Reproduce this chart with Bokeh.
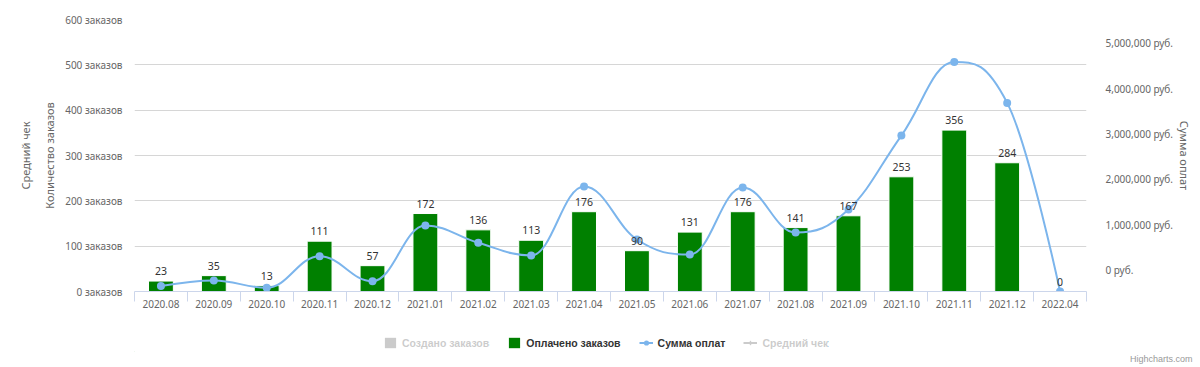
from bokeh.plotting import figure
from bokeh.layouts import column
from bokeh.models import (Range1d, LinearAxis, FixedTicker, ColumnDataSource,
                          Legend, LegendItem, Title)
from bokeh.embed import file_html
from bokeh.resources import INLINE
from bokeh.core.properties import value

# ---------------- data ----------------
months = ["2020.08", "2020.09", "2020.10", "2020.11", "2020.12",
          "2021.01", "2021.02", "2021.03", "2021.04", "2021.05", "2021.06",
          "2021.07", "2021.08", "2021.09", "2021.10", "2021.11", "2021.12",
          "2022.04"]
paid_orders = [23, 35, 13, 111, 57, 172, 136, 113, 176, 90, 131, 176, 141,
               167, 253, 356, 284, 0]
payment_sum = [120000, 243000, 82000, 780000, 227000, 1456000, 1074000,
               794000, 2316000, 1147000, 816000, 2294000, 1300000, 1810000,
               3440000, 5060000, 4160000, 0]

count_ticks = [0, 100, 200, 300, 400, 500, 600]
count_tick_labels = ["0 заказов", "100 заказов", "200 заказов", "300 заказов",
                     "400 заказов", "500 заказов", "600 заказов"]
sum_ticks = [0, 1000000, 2000000, 3000000, 4000000, 5000000]
sum_tick_labels = ["0 руб.", "1,000,000 руб.", "2,000,000 руб.",
                   "3,000,000 руб.", "4,000,000 руб.", "5,000,000 руб."]

series_names = ["Создано заказов", "Оплачено заказов", "Сумма оплат", "Средний чек"]

# ---------------- helpers ----------------
def hc_spline(xs, ys, smoothing=1.5):
    """Highcharts-style spline control points -> bezier segments."""
    n = len(xs)
    denom = smoothing + 1
    lc = [None] * n
    rc = [None] * n
    for i in range(1, n - 1):
        px, py = xs[i], ys[i]
        lx, ly = xs[i - 1], ys[i - 1]
        nx, ny = xs[i + 1], ys[i + 1]
        lcx = (smoothing * px + lx) / denom
        lcy = (smoothing * py + ly) / denom
        rcx = (smoothing * px + nx) / denom
        rcy = (smoothing * py + ny) / denom
        if rcx != lcx:
            corr = ((rcy - lcy) * (rcx - px)) / (rcx - lcx) + py - rcy
            lcy += corr
            rcy += corr
            if lcy > ly and lcy > py:
                lcy = max(ly, py); rcy = 2 * py - lcy
            elif lcy < ly and lcy < py:
                lcy = min(ly, py); rcy = 2 * py - lcy
            if rcy > ny and rcy > py:
                rcy = max(ny, py); lcy = 2 * py - rcy
            elif rcy < ny and rcy < py:
                rcy = min(ny, py); lcy = 2 * py - rcy
        lc[i] = (lcx, lcy)
        rc[i] = (rcx, rcy)
    seg = dict(x0=[], y0=[], x1=[], y1=[], cx0=[], cy0=[], cx1=[], cy1=[])
    for i in range(1, n):
        sx, sy = xs[i - 1], ys[i - 1]
        ex, ey = xs[i], ys[i]
        c0 = rc[i - 1] if rc[i - 1] else (sx, sy)
        c1 = lc[i] if lc[i] else (ex, ey)
        seg["x0"].append(sx); seg["y0"].append(sy)
        seg["x1"].append(ex); seg["y1"].append(ey)
        seg["cx0"].append(c0[0]); seg["cy0"].append(c0[1])
        seg["cx1"].append(c1[0]); seg["cy1"].append(c1[1])
    return seg

# ---------------- main figure ----------------
N = len(months)
centers = [i + 0.5 for i in range(N)]
bounds = [float(i) for i in range(N + 1)]

FONT = "Noto Sans"
GRAY = "#666666"
GREEN = "#008000"
BLUE = "#7cb5ec"

SUM_MAX = 6000000
LABEL_SHIFT = 21.5 / 272 * SUM_MAX   # right axis labels sit above their level

p = figure(width=1200, height=319, x_range=Range1d(0, N), y_range=Range1d(0, 600),
           output_backend="svg", toolbar_location=None,
           min_border_left=134, min_border_right=114, min_border_top=19,
           min_border_bottom=28)
p.outline_line_color = None
p.background_fill_color = "white"
p.border_fill_color = "white"
p.extra_y_ranges = {
    "sum": Range1d(0, SUM_MAX),
    "sumlab": Range1d(-LABEL_SHIFT, SUM_MAX - LABEL_SHIFT),
    "avg": Range1d(0, 1),
}

# x axis
xa = p.xaxis[0]
xa.ticker = FixedTicker(ticks=centers, minor_ticks=bounds)
xa.major_label_overrides = {c: m for c, m in zip(centers, months)}
xa.major_tick_line_color = None
xa.major_tick_out = 0
xa.major_tick_in = 0
xa.minor_tick_line_color = "#ccd6eb"
xa.minor_tick_out = 10
xa.minor_tick_in = 0
xa.axis_line_color = "#ccd6eb"
xa.major_label_text_font = FONT
xa.major_label_text_font_size = "10px"
xa.major_label_text_color = GRAY
xa.major_label_standoff = -2

# left axis: orders count
ya = p.yaxis[0]
ya.ticker = FixedTicker(ticks=count_ticks)
ya.major_label_overrides = {t: l for t, l in zip(count_ticks, count_tick_labels)}
ya.major_tick_line_color = None
ya.major_tick_out = 0
ya.minor_tick_line_color = None
ya.axis_line_color = None
ya.major_label_text_font = FONT
ya.major_label_text_font_size = "10px"
ya.major_label_text_color = GRAY
ya.major_label_standoff = 12
ya.axis_label = "Количество заказов"
ya.axis_label_text_font = FONT
ya.axis_label_text_font_size = "11px"
ya.axis_label_text_font_style = "normal"
ya.axis_label_text_color = GRAY
ya.axis_label_standoff = 5

# left axis: average check (no ticks)
avg_axis = LinearAxis(y_range_name="avg", ticker=FixedTicker(ticks=[]),
                      axis_line_color=None, major_tick_line_color=None,
                      minor_tick_line_color=None, major_tick_out=0,
                      minor_tick_out=0, major_label_standoff=0,
                      axis_label="Средний чек", axis_label_text_font=FONT,
                      axis_label_text_font_size="11px",
                      axis_label_text_font_style="normal",
                      axis_label_text_color=GRAY, axis_label_standoff=7)
p.add_layout(avg_axis, "left")

# right axis: payment sum
sum_axis = LinearAxis(y_range_name="sumlab", ticker=FixedTicker(ticks=sum_ticks),
                      axis_line_color=None, major_tick_line_color=None,
                      minor_tick_line_color=None, major_tick_out=0,
                      minor_tick_out=0, major_label_standoff=19,
                      major_label_text_font=FONT,
                      major_label_text_font_size="10px",
                      major_label_text_color=GRAY,
                      axis_label="Сумма оплат", axis_label_text_font=FONT,
                      axis_label_text_font_size="11px",
                      axis_label_text_font_style="normal",
                      axis_label_text_color=GRAY, axis_label_standoff=1)
sum_axis.major_label_overrides = {t: l for t, l in zip(sum_ticks, sum_tick_labels)}
p.add_layout(sum_axis, "right")

p.xgrid.visible = False
p.ygrid.grid_line_color = "#d6d6d6"
p.ygrid.grid_line_width = 1

src = ColumnDataSource(dict(x=centers, paid=paid_orders, total=payment_sum,
                            lbl=[str(v) for v in paid_orders]))

p.vbar(x="x", top="paid", width=0.47, source=src, fill_color=GREEN,
       line_color="white", line_width=1)

seg = hc_spline(centers, payment_sum)
p.bezier(x0=seg["x0"], y0=seg["y0"], x1=seg["x1"], y1=seg["y1"],
         cx0=seg["cx0"], cy0=seg["cy0"], cx1=seg["cx1"], cy1=seg["cy1"],
         line_color=BLUE, line_width=2, y_range_name="sum")
p.scatter(x="x", y="total", source=src, size=8, marker="circle",
          fill_color=BLUE, line_color=None, y_range_name="sum")

p.text(x="x", y="paid", text="lbl", source=src, text_align="center",
       text_baseline="middle", y_offset=-10, text_font=value(FONT),
       text_font_size="10.5px", text_color="#333333")

# ---------------- legend strip ----------------
leg = figure(width=1200, height=48, x_range=Range1d(0, 1), y_range=Range1d(0, 1),
             output_backend="svg", toolbar_location=None,
             x_axis_type=None, y_axis_type=None, min_border=0,
             min_border_left=134, min_border_right=114, min_border_bottom=16)
leg.outline_line_color = None
leg.grid.visible = False
leg.background_fill_color = "white"
leg.border_fill_color = "white"

# legend swatches (kept outside the visible range of this strip)
swatch = ColumnDataSource(dict(x=[-5.0], y=[-5.0]))
r_created = leg.vbar(x="x", top="y", width=0.5, source=swatch,
                     fill_color="#333333", line_color=None, visible=False)
r_paid = leg.vbar(x="x", top="y", width=0.5, source=swatch,
                  fill_color=GREEN, line_color=None)
r_sum_line = leg.line(x="x", y="y", source=swatch, line_color=BLUE, line_width=2)
r_sum_pts = leg.scatter(x="x", y="y", source=swatch, marker="circle", size=8,
                        fill_color=BLUE, line_color=None)
r_avg_line = leg.line(x="x", y="y", source=swatch, line_color="#333333",
                      line_width=2, visible=False)
r_avg_pts = leg.scatter(x="x", y="y", source=swatch, marker="diamond", size=8,
                        fill_color="#333333", line_color=None, visible=False)

legend = Legend(items=[
    LegendItem(label=series_names[0], renderers=[r_created]),
    LegendItem(label=series_names[1], renderers=[r_paid]),
    LegendItem(label=series_names[2], renderers=[r_sum_line, r_sum_pts]),
    LegendItem(label=series_names[3], renderers=[r_avg_line, r_avg_pts]),
], orientation="horizontal", location=(249, 2), click_policy="hide",
    label_text_font="Liberation Sans", label_text_font_size="10.5px",
    label_text_font_style="bold", label_text_color="#333333",
    label_height=13, glyph_height=13, glyph_width=14, label_standoff=5,
    spacing=18, padding=0, margin=0, border_line_color=None,
    background_fill_alpha=0, inactive_fill_color="white",
    inactive_fill_alpha=0.75)
leg.add_layout(legend)

credits = Title(text="Highcharts.com", align="right", offset=-106, standoff=0,
                text_font="Liberation Sans", text_font_size="9px",
                text_font_style="normal", text_color="#999999")
leg.add_layout(credits, "below")

layout = column(p, leg, spacing=0)
open("out.html", "w").write(file_html(layout, INLINE))
